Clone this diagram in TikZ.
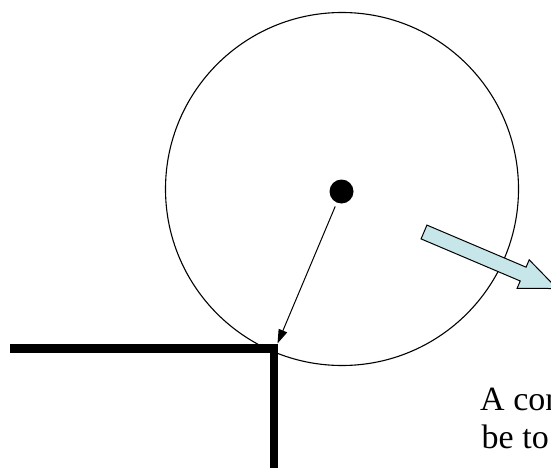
\documentclass[tikz,border=0pt]{standalone}
\usepackage{fontspec}
\setmainfont{Liberation Serif}
\usepackage{xcolor}
\usetikzlibrary{arrows.meta}
\definecolor{arrowblue}{RGB}{198,230,234}

\begin{document}
\begin{tikzpicture}[x=1pt, y=-1pt, every node/.style={font=\fontsize{34}{38}\selectfont}]
  \useasboundingbox (0,0) rectangle (551,468);
  \clip (0,0) rectangle (551,468);
  % ball and its centre
  \node[draw, circle, line width=1.1pt, minimum size=353pt, inner sep=0pt]
      (ball) at (342,189) {};
  \node[fill, circle, minimum size=24pt, inner sep=0pt] (centre) at (341.5,191.5) {};
  % wall with the corner
  \coordinate (wallend) at (10,348.5);
  \coordinate (corner)  at (274,348.5);
  \coordinate (wallfoot) at (274,472);
  \coordinate (tip)     at (277.5,343.5);
  \draw[line width=8.5pt, miter limit=4] (wallend) -- (corner) -- (wallfoot);
  \draw[line width=1pt, -{Triangle[length=14pt,width=9pt]}, shorten <=4pt]
      (centre) -- (tip);
  % velocity arrow
  \begin{scope}[shift={(424,232)}, rotate=-23]
    \draw[fill=arrowblue, line width=1pt, line join=miter]
      (0,-7.5) -- (107.7,-7.5) -- (107.7,-15.5) -- (144.7,0)
      -- (107.7,15.5) -- (107.7,7.5) -- (0,7.5) -- cycle;
  \end{scope}
  \node[anchor=base west, inner sep=0pt] (line1) at (480,410) {A con};
  \node[anchor=base west, inner sep=0pt] (line2) at (481.5,448) {be to};
\end{tikzpicture}
\end{document}
